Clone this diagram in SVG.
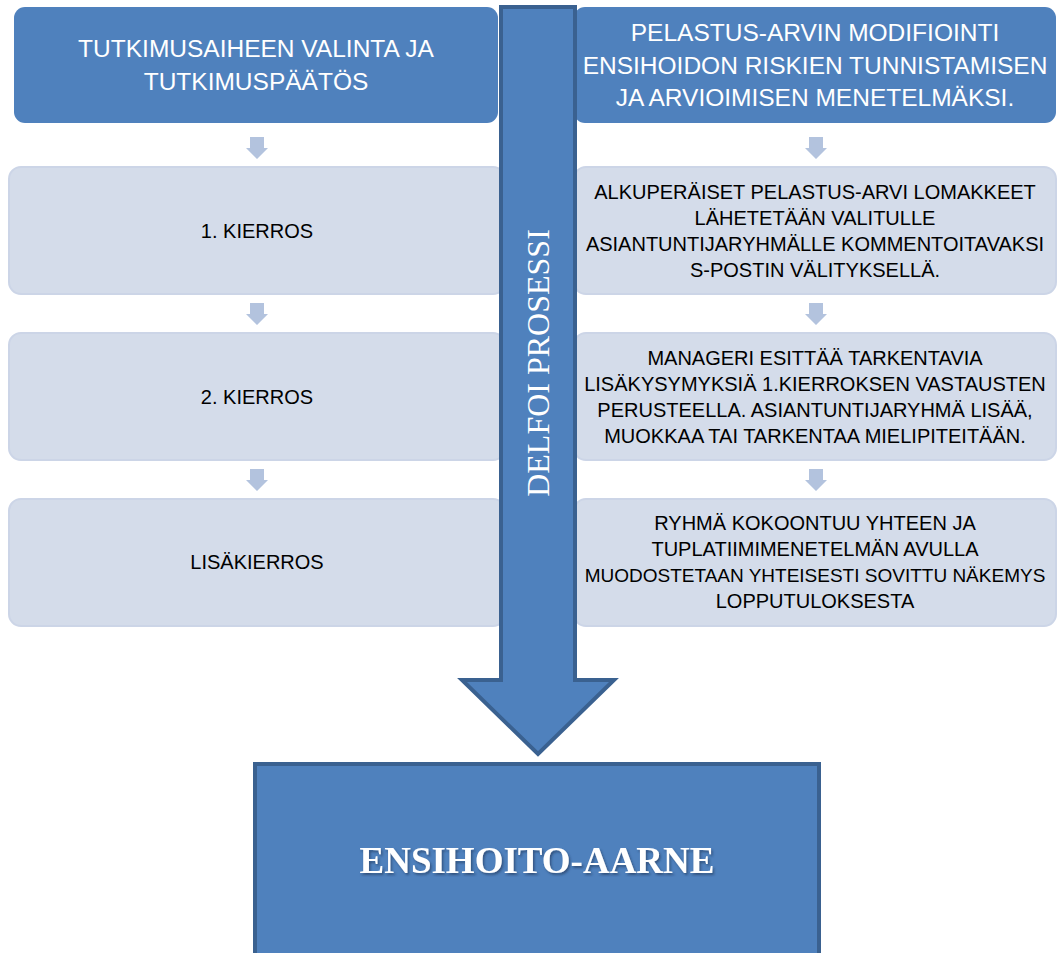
<svg xmlns="http://www.w3.org/2000/svg" width="1058" height="953" viewBox="0 0 1058 953">
<defs>
<style>
.dark{fill:#4f81bd;}
.light{fill:#d4dcea;stroke:#ccd5e7;stroke-width:2;}
.sarrow{fill:#b3c3de;}
.big{fill:#4f81bd;stroke:#3a6190;stroke-width:4;}
.tw{font-family:"Liberation Sans",Arial,sans-serif;font-size:24.5px;fill:#ffffff;text-anchor:middle;}
.tb{font-family:"Liberation Sans",Arial,sans-serif;font-size:20px;fill:#000000;text-anchor:middle;}
.serif{font-family:"Liberation Serif","Times New Roman",serif;fill:#ffffff;text-anchor:middle;}
</style>
<filter id="sh" x="-10%" y="-30%" width="120%" height="160%">
<feDropShadow dx="1.5" dy="2" stdDeviation="1" flood-color="#1f3656" flood-opacity="0.6"/>
</filter>
</defs>
<rect width="1058" height="953" fill="#ffffff"/>

<g id="node-top-left">
<rect class="dark" x="14" y="7" width="484" height="116" rx="11"/>
<text class="tw" x="256" y="57">TUTKIMUSAIHEEN VALINTA JA</text>
<text class="tw" x="256" y="90">TUTKIMUSPÄÄTÖS</text>
</g>
<g id="node-top-right">
<rect class="dark" x="574" y="7" width="482" height="116" rx="11"/>
<text class="tw" x="815" y="41">PELASTUS-ARVIN MODIFIOINTI</text>
<text class="tw" x="815" y="74">ENSIHOIDON RISKIEN TUNNISTAMISEN</text>
<text class="tw" x="815" y="106">JA ARVIOIMISEN MENETELMÄKSI.</text>
</g>

<g id="node-kierros1">
<rect class="light" x="9" y="167" width="496" height="127" rx="12"/>
<text class="tb" x="257" y="238">1. KIERROS</text>
</g>
<g id="node-kierros2">
<rect class="light" x="9" y="333" width="496" height="127" rx="12"/>
<text class="tb" x="257" y="404">2. KIERROS</text>
</g>
<g id="node-lisakierros">
<rect class="light" x="9" y="499" width="496" height="127" rx="12"/>
<text class="tb" x="257" y="569">LISÄKIERROS</text>
</g>

<g id="node-r1">
<rect class="light" x="574" y="167" width="482" height="127" rx="12"/>
<text class="tb" x="815" y="198.5">ALKUPERÄISET PELASTUS-ARVI LOMAKKEET</text>
<text class="tb" x="815" y="224.5">LÄHETETÄÄN VALITULLE</text>
<text class="tb" x="815" y="250.5">ASIANTUNTIJARYHMÄLLE KOMMENTOITAVAKSI</text>
<text class="tb" x="815" y="276.5">S-POSTIN VÄLITYKSELLÄ.</text>
</g>
<g id="node-r2">
<rect class="light" x="574" y="333" width="482" height="127" rx="12"/>
<text class="tb" x="815" y="364.5">MANAGERI ESITTÄÄ TARKENTAVIA</text>
<text class="tb" x="815" y="390.5">LISÄKYSYMYKSIÄ 1.KIERROKSEN VASTAUSTEN</text>
<text class="tb" x="815" y="416.5">PERUSTEELLA. ASIANTUNTIJARYHMÄ LISÄÄ,</text>
<text class="tb" x="815" y="442.5">MUOKKAA TAI TARKENTAA MIELIPITEITÄÄN.</text>
</g>
<g id="node-r3">
<rect class="light" x="574" y="499" width="482" height="127" rx="12"/>
<text class="tb" x="815" y="530">RYHMÄ KOKOONTUU YHTEEN JA</text>
<text class="tb" x="815" y="556">TUPLATIIMIMENETELMÄN AVULLA</text>
<text class="tb" x="815" y="582" style="font-size:19px">MUODOSTETAAN YHTEISESTI SOVITTU NÄKEMYS</text>
<text class="tb" x="815" y="608">LOPPUTULOKSESTA</text>
</g>

<g id="connectors">
<polygon class="sarrow" points="250,137 264,137 264,148 268,148 257,159 246,148 250,148"/>
<polygon class="sarrow" points="250,303 264,303 264,314 268,314 257,325 246,314 250,314"/>
<polygon class="sarrow" points="250,469 264,469 264,480 268,480 257,491 246,480 250,480"/>
<polygon class="sarrow" points="809,137 823,137 823,148 827,148 816,159 805,148 809,148"/>
<polygon class="sarrow" points="809,303 823,303 823,314 827,314 816,325 805,314 809,314"/>
<polygon class="sarrow" points="809,469 823,469 823,480 827,480 816,491 805,480 809,480"/>
</g>

<g id="node-delfoi-arrow">
<polygon class="big" points="501,7 575,7 575,680 614,680 538,754 462,680 501,680"/>
<text class="serif" font-size="32" transform="translate(549,363) rotate(-90)">DELFOI PROSESSI</text>
</g>

<g id="node-ensihoito">
<rect class="big" x="255" y="764" width="564" height="200"/>
<text class="serif" x="537" y="873" font-size="37" font-weight="bold" filter="url(#sh)">ENSIHOITO-AARNE</text>
</g>
</svg>
